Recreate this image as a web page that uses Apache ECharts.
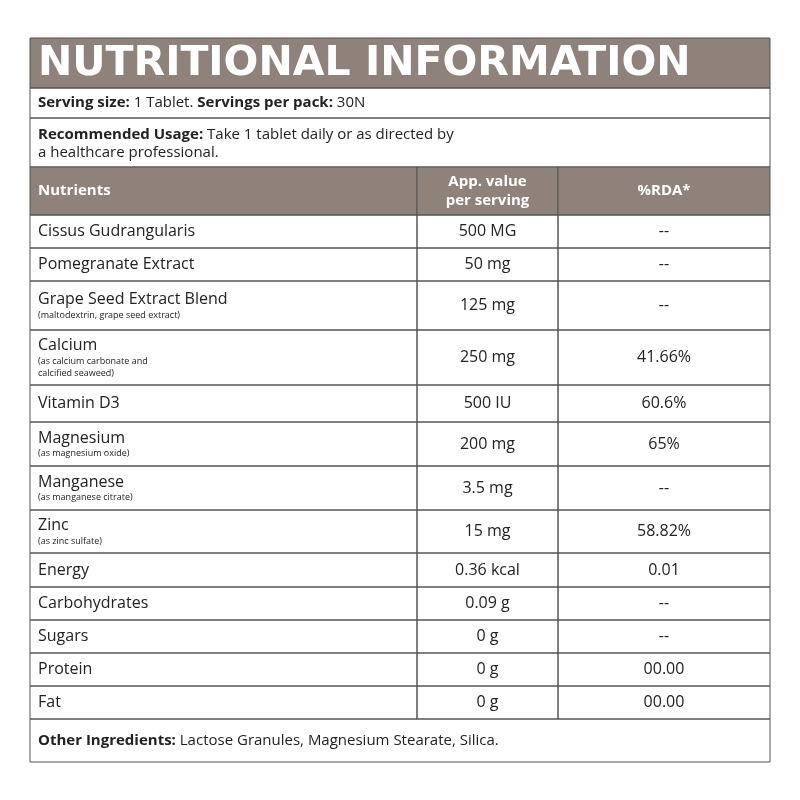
<!DOCTYPE html><html><head><meta charset="utf-8"><script src="https://cdn.jsdelivr.net/npm/echarts@6/dist/echarts.min.js"></script>
<style>html,body{margin:0;background:#fff}#c{width:800px;height:800px}</style></head><body><div id="c"></div><script>
const title = "NUTRITIONAL INFORMATION";
const headers = ["Nutrients", "App. value\nper serving", "%RDA*"];
const names = ["Cissus Gudrangularis","Pomegranate Extract","Grape Seed Extract Blend","Calcium","Vitamin D3","Magnesium","Manganese","Zinc","Energy","Carbohydrates","Sugars","Protein","Fat"];
const notes = ["","","(maltodextrin, grape seed extract)","(as calcium carbonate and\ncalcified seaweed)","","(as magnesium oxide)","(as manganese citrate)","(as zinc sulfate)","","","","",""];
const amounts = ["500 MG","50 mg","125 mg","250 mg","500 IU","200 mg","3.5 mg","15 mg","0.36 kcal","0.09 g","0 g","0 g","0 g"];
const rdas = ["--","--","--","41.66%","60.6%","65%","--","58.82%","0.01","--","--","00.00","00.00"];
const rowH = [33,33,49,55,37,44,44,43,34,33,33,33,33];

const L=30,R=770,C1=417,C2=558,brown="#8f827a",line="#555",F="'Open Sans', sans-serif";
const g=[];
function rect(x,y,w,h,fill){g.push({type:'rect',shape:{x,y,width:w,height:h},style:{fill:fill||'none',stroke:line,lineWidth:1}});}
function txt(x,y,rich,align,va){g.push({type:'text',x,y,style:{text:rich.t,rich:rich.r,align:align||'left',verticalAlign:va||'middle',fill:'#222',font:'15px '+F}});}
rect(L,38,R-L,50,brown);
g.push({type:'text',x:38,y:64,style:{text:title,fill:'#fff',font:'bold 41px "DejaVu Sans"',verticalAlign:'middle'}});
rect(L,88,R-L,30);
txt(38,103,{t:"{b|Serving size:} 1 Tablet. {b|Servings per pack:} 30N",r:{b:{fontWeight:'bold',fontSize:15,fontFamily:'Open Sans'}}});
rect(L,118,R-L,49);
txt(38,142,{t:"{b|Recommended Usage:} Take 1 tablet daily or as directed by\na healthcare professional.",r:{b:{fontWeight:'bold',fontSize:15,fontFamily:'Open Sans',lineHeight:21}}});
rect(L,167,C1-L,48,brown);rect(C1,167,C2-C1,48,brown);rect(C2,167,R-C2,48,brown);
g.push({type:'text',x:38,y:191,style:{text:headers[0],fill:'#fff',font:'bold 15px '+F,verticalAlign:'middle'}});
g.push({type:'text',x:(C1+C2)/2,y:191,style:{text:headers[1],fill:'#fff',font:'bold 15px '+F,align:'center',verticalAlign:'middle',lineHeight:19}});
g.push({type:'text',x:(C2+R)/2,y:191,style:{text:headers[2],fill:'#fff',font:'bold 15px '+F,align:'center',verticalAlign:'middle'}});
let y=215;
names.forEach((n,i)=>{const h=rowH[i];
 rect(L,y,C1-L,h);rect(C1,y,C2-C1,h);rect(C2,y,R-C2,h);
 if(notes[i]){
  g.push({type:'text',x:38,y:y+h/2,style:{text:'{n|'+n+'}\n{s|'+notes[i].replace('\n','}\n{s|')+'}',rich:{n:{fontSize:16,fontFamily:'Open Sans',fill:'#222',lineHeight:19},s:{fontSize:9,fontFamily:'Open Sans',fill:'#222',lineHeight:12}},verticalAlign:'middle'}});
 } else txt(38,y+h/2,{t:'{n|'+n+'}',r:{n:{fontSize:16,fontFamily:'Open Sans',fill:'#222'}}});
 g.push({type:'text',x:(C1+C2)/2,y:y+h/2,style:{text:amounts[i],font:'16px '+F,fill:'#222',align:'center',verticalAlign:'middle'}});
 g.push({type:'text',x:(C2+R)/2,y:y+h/2,style:{text:rdas[i],font:'16px '+F,fill:'#222',align:'center',verticalAlign:'middle'}});
 y+=h;});
rect(L,y,R-L,43);
txt(38,y+22,{t:"{b|Other Ingredients:} Lactose Granules, Magnesium Stearate, Silica.",r:{b:{fontWeight:'bold',fontSize:15,fontFamily:'Open Sans'}}});
const ch=echarts.init(document.getElementById('c'));
ch.setOption({animation:false,graphic:g});
</script></body></html>
